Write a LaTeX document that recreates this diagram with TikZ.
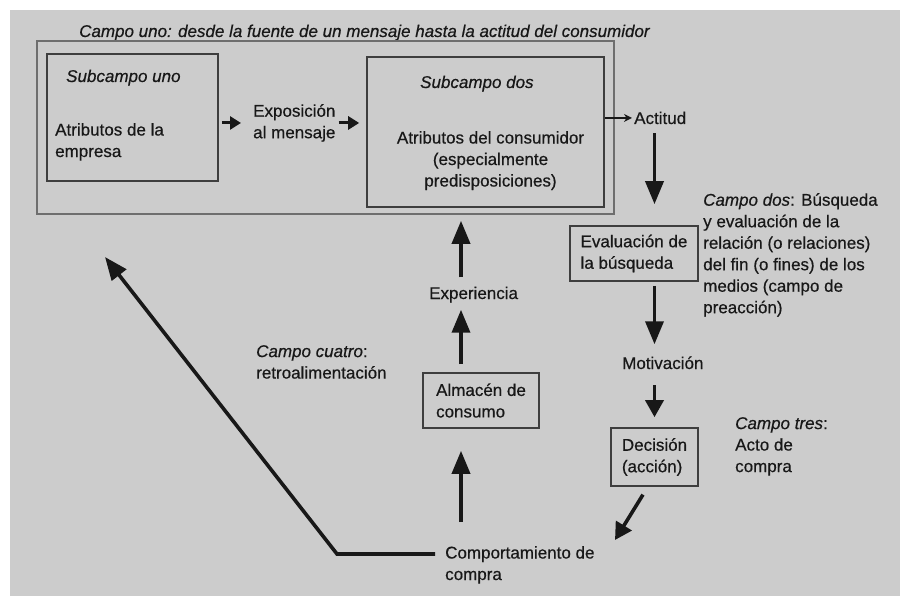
\documentclass[tikz,border=0pt]{standalone}
\usepackage{fontspec}
\setmainfont{Liberation Sans}[FakeBold=0.5]
\usepackage{tikz}
\usetikzlibrary{arrows.meta, calc}

\definecolor{paper}{RGB}{204,204,204}
\definecolor{ink}{RGB}{24,24,24}
\definecolor{boxline}{RGB}{62,62,62}
\definecolor{frameline}{RGB}{110,110,110}

\begin{document}
\begin{tikzpicture}[x=1pt, y=-1pt,
		txt/.style = {text=ink, inner sep=1pt, align=left, font=\fontsize{17}{21.5}\selectfont},
		box/.style = {draw=boxline, line width=1.6pt, inner sep=0pt},
		frame/.style = {draw=frameline, line width=1.2pt, inner sep=0pt},
		arr/.style = {draw=ink, line width=3.6pt, -{Triangle[length=23pt,width=18pt]}},
		midarr/.style = {draw=ink, line width=3.6pt, -{Triangle[length=17pt,width=18pt]}},
		smallarr/.style = {draw=ink, line width=3pt, -{Triangle[length=11pt,width=13pt]}},
		thinarr/.style = {draw=ink, line width=1.8pt, -{Stealth[length=8pt,width=8pt]}}]
				\useasboundingbox (0,0) rectangle (900,596);
				\fill [paper] (10,10) rectangle (900,596);

				% campo uno
				\node [txt, anchor=base west, font=\fontsize{17}{21.5}\selectfont\itshape] (title) at (78,37) {Campo uno: desde la fuente de un mensaje hasta la actitud del consumidor};
				\node [frame, minimum width=577pt, minimum height=173pt] (campouno) at (325.5,127.5) {};

				\node [box, minimum width=171pt, minimum height=127pt] (sub1) at (132.5,117.5) {};
				\node [txt, anchor=base west, font=\fontsize{17}{21.5}\selectfont\itshape] (sub1title) at (65,82) {Subcampo uno};
				\node [txt, anchor=north west] (empresa) at (54,122) {Atributos de la\\empresa};

				\node [txt, anchor=north west] (expo) at (252,103) {Exposición\\al mensaje};

				\node [box, minimum width=237pt, minimum height=150pt] (sub2) at (485.5,132) {};
				\node [txt, anchor=base west, font=\fontsize{17}{21.5}\selectfont\itshape] (sub2title) at (419,88) {Subcampo dos};
				\node [txt, anchor=north, align=center] (consumidor) at (490.5,130) {Atributos del consumidor\\(especialmente\\predisposiciones)};

				\node [txt, anchor=base west] (actitud) at (633,124) {Actitud};

				% campo dos y tres
				\node [box, txt, minimum width=128pt, minimum height=55pt] (eval) at (634,253.5) {Evaluación de\\la búsqueda};
				\node [txt, anchor=north west] (campodos) at (702,192) {\textit{Campo dos}: Búsqueda\\y evaluación de la\\relación (o relaciones)\\del fin (o fines) de los\\medios (campo de\\preacción)};
				\node [txt, anchor=base west] (motiv) at (621,369) {Motivación};
				\node [box, txt, minimum width=87pt, minimum height=58pt] (decis) at (654.5,457) {Decisión\\(acción)};
				\node [txt, anchor=north west] (campotres) at (734,416) {\textit{Campo tres}:\\Acto de\\compra};

				% campo cuatro
				\node [txt, anchor=north west] (comport) at (444,545) {Comportamiento de\\compra};
				\node [box, txt, minimum width=116pt, minimum height=55pt] (almacen) at (481,400.5) {Almacén de\\consumo};
				\node [txt, anchor=base west] (exper) at (428,299) {Experiencia};
				\node [txt, anchor=north west] (campocuatro) at (255,344) {\textit{Campo cuatro}:\\retroalimentación};

				\coordinate (stem) at (461,0);
				\coordinate (buytip) at (615,540);
				\coordinate (fbturn) at (337,554);
				\coordinate (fbtip) at (105,257);

				\begin{scope}
					\draw [smallarr, shorten <=3pt, shorten >=11pt] (sub1.east |- expo.west) -- (expo.west);
					\draw [smallarr, shorten <=2pt, shorten >=7pt] (expo.east) -- (sub2.west |- expo.east);
					\draw [thinarr, shorten >=1pt] (sub2.east |- actitud.west) -- (actitud.west);
					\draw [arr, shorten <=8pt, shorten >=21pt] (actitud.south -| decis) -- (eval.north -| decis);
					\draw [arr, shorten <=4pt, shorten >=11pt] (eval.south -| decis) -- (motiv.north -| decis);
					\draw [midarr, shorten <=15pt, shorten >=10pt] (motiv.south -| decis) -- (decis.north);
					\draw [midarr, shorten <=1pt] ($(decis.south)+(-11,7)$) -- (buytip);
					\draw [arr, shorten <=23pt, shorten >=22pt] (comport.north -| stem) -- (almacen.south -| stem);
					\draw [arr, shorten <=8pt, shorten >=6pt] (almacen.north -| stem) -- (exper.south -| stem);
					\draw [arr, shorten <=8pt, shorten >=13pt] (exper.north -| stem) -- (sub2.south -| stem);
					\draw [arr, line join=miter] ($(comport.north west)+(-9,9)$) -- (fbturn) -- (fbtip);
				\end{scope}
			\end{tikzpicture}
\end{document}
